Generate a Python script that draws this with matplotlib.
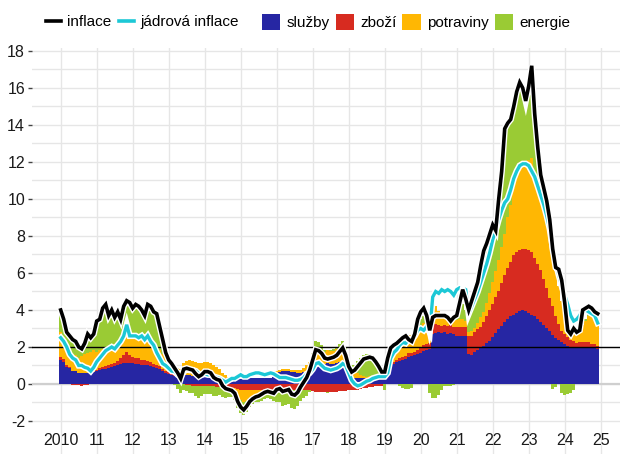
import numpy as np
import matplotlib
matplotlib.use("Agg")
import matplotlib.pyplot as plt
import matplotlib.patheffects as pe
from matplotlib.lines import Line2D
from matplotlib.patches import Patch

plt.rcParams['font.family'] = ['Liberation Sans', 'DejaVu Sans']
plt.rcParams['axes.unicode_minus'] = False

start_year = 2010
year_labels = ['2010', '11', '12', '13', '14', '15', '16', '17', '18', '19',
               '20', '21', '22', '23', '24', '25']

inflace = [
    4.0, 3.5, 2.8, 2.6, 2.4, 2.3, 2.0, 1.9, 2.2, 2.7, 2.5, 2.7,
    3.4, 3.5, 4.1, 4.3, 3.7, 4.0, 3.6, 3.9, 3.5, 4.2, 4.5, 4.4,
    4.1, 4.3, 4.2, 4.0, 3.7, 4.3, 4.2, 3.9, 3.8, 3.1, 2.4, 1.7,
    1.3, 1.1, 0.85, 0.6, 0.3, 0.8, 0.85, 0.8, 0.75, 0.55, 0.4, 0.5,
    0.67, 0.67, 0.6, 0.35, 0.25, 0.2, -0.1, -0.25, -0.3, -0.35, -0.5, -0.95,
    -1.25, -1.4, -1.2, -0.95, -0.8, -0.7, -0.65, -0.55, -0.45, -0.4, -0.45, -0.5,
    -0.3, -0.25, -0.4, -0.35, -0.3, -0.55, -0.6, -0.45, -0.15, 0.1, 0.35, 0.75,
    1.3, 1.85, 1.8, 1.65, 1.4, 1.35, 1.4, 1.45, 1.55, 1.75, 1.95, 1.55,
    0.95, 0.65, 0.75, 0.95, 1.15, 1.35, 1.4, 1.45, 1.4, 1.2, 0.95, 0.65,
    0.65, 1.4, 1.95, 2.1, 2.2, 2.35, 2.5, 2.6, 2.4, 2.3, 2.7, 3.5,
    3.9, 4.1, 3.7, 2.9, 3.6, 3.7, 3.7, 3.7, 3.7, 3.6, 3.4, 3.6,
    3.7, 4.4, 5.1, 4.6, 4.0, 4.5, 5.0, 5.5, 6.4, 7.2, 7.6, 8.1,
    8.6, 8.3, 10.0, 11.5, 13.8, 14.1, 14.3, 15.0, 15.8, 16.3, 16.0, 15.3,
    16.1, 17.2, 14.6, 12.8, 11.3, 10.6, 9.9, 8.9, 7.3, 6.3, 6.2, 5.6,
    4.4, 2.9, 2.7, 3.0, 2.8, 2.9, 4.0, 4.1, 4.2, 4.1, 3.9, 3.8,
]

jadrova = [
    2.5, 2.3, 2.0, 1.6, 1.4, 1.3, 1.0, 1.0, 0.9, 0.85, 0.7, 0.9,
    1.2, 1.4, 1.6, 1.8, 1.9, 2.0, 1.9, 2.1, 2.3, 2.6, 3.2, 2.6,
    2.6, 2.6, 2.5, 2.6, 2.4, 2.6, 2.3, 2.1, 1.7, 1.4, 1.1, 1.0,
    0.85, 0.7, 0.67, 0.5, 0.4, 0.67, 0.8, 0.75, 0.75, 0.7, 0.55, 0.5,
    0.55, 0.5, 0.5, 0.4, 0.35, 0.3, 0.2, 0.1, 0.2, 0.3, 0.3, 0.4,
    0.5, 0.4, 0.4, 0.5, 0.55, 0.6, 0.6, 0.55, 0.5, 0.55, 0.6, 0.55,
    0.45, 0.35, 0.35, 0.35, 0.3, 0.25, 0.2, 0.2, 0.25, 0.35, 0.55, 0.6,
    0.8, 1.1, 1.15, 1.0, 0.85, 0.8, 0.75, 0.8, 0.85, 0.95, 1.1, 1.0,
    0.6, 0.2, 0.0, -0.1, -0.05, 0.05, 0.15, 0.2, 0.3, 0.35, 0.4, 0.4,
    0.4, 0.6, 1.4, 1.7, 1.85, 2.1, 2.25, 2.2, 2.4, 2.4, 2.6, 2.9,
    3.0, 2.9, 3.1, 2.8, 4.7, 5.0, 4.9, 5.1, 5.0, 5.1, 5.0, 4.8,
    5.1, 5.2, 5.2, 5.1, 3.8, 4.2, 4.6, 5.0, 5.5, 6.0, 6.5, 7.1,
    7.8, 8.3, 8.9, 9.4, 9.8, 10.0, 10.5, 11.1, 11.5, 11.8, 11.9, 11.9,
    11.8, 11.5, 11.2, 10.7, 10.2, 9.7, 9.1, 8.4, 7.4, 6.6, 5.9, 5.3,
    4.8, 4.3, 3.7, 3.4, 3.5, 3.7, 4.0, 4.0, 3.9, 3.8, 3.7, 3.3,
]

sluzby = [
    1.3, 1.2, 0.9, 0.85, 0.7, 0.7, 0.6, 0.6, 0.6, 0.6, 0.6, 0.65,
    0.7, 0.75, 0.8, 0.8, 0.85, 0.9, 0.95, 1.0, 1.1, 1.15, 1.15, 1.15,
    1.15, 1.1, 1.1, 1.05, 1.0, 1.0, 0.95, 0.9, 0.85, 0.8, 0.7, 0.6,
    0.55, 0.5, 0.45, 0.4, 0.35, 0.45, 0.5, 0.5, 0.45, 0.45, 0.4, 0.4,
    0.4, 0.45, 0.45, 0.4, 0.4, 0.35, 0.35, 0.35, 0.35, 0.35, 0.35, 0.35,
    0.3, 0.3, 0.3, 0.3, 0.3, 0.3, 0.3, 0.35, 0.35, 0.35, 0.35, 0.4,
    0.6, 0.65, 0.7, 0.7, 0.7, 0.65, 0.65, 0.6, 0.6, 0.65, 0.7, 0.75,
    0.9, 1.0, 1.1, 1.1, 1.1, 1.15, 1.1, 1.1, 1.15, 1.2, 1.2, 1.1,
    0.5, 0.35, 0.3, 0.3, 0.3, 0.3, 0.3, 0.35, 0.35, 0.35, 0.4, 0.4,
    0.6, 0.8, 1.0, 1.1, 1.2, 1.25, 1.3, 1.35, 1.45, 1.5, 1.55, 1.6,
    1.7, 1.8, 1.85, 1.9, 2.7, 2.75, 2.8, 2.75, 2.8, 2.7, 2.75, 2.7,
    2.6, 2.6, 2.6, 2.6, 1.6, 1.55, 1.75, 1.85, 1.95, 2.05, 2.2, 2.35,
    2.55, 2.75, 2.95, 3.15, 3.35, 3.5, 3.65, 3.75, 3.85, 3.95, 4.0, 3.95,
    3.85, 3.75, 3.65, 3.5, 3.35, 3.2, 3.0, 2.85, 2.65, 2.5, 2.4, 2.25,
    2.15, 2.05, 2.0, 2.0, 2.0, 2.0, 2.0, 2.0, 2.0, 1.95, 1.95, 1.9,
]

zbozi = [
    0.18, 0.15, 0.1, 0.05, -0.05, -0.05, -0.05, -0.1, -0.05, -0.05, 0.0, 0.0,
    0.05, 0.1, 0.1, 0.15, 0.15, 0.2, 0.2, 0.25, 0.3, 0.4, 0.6, 0.4,
    0.3, 0.3, 0.3, 0.25, 0.3, 0.25, 0.25, 0.2, 0.2, 0.15, 0.1, 0.1,
    0.1, 0.05, 0.05, 0.05, 0.0, 0.0, -0.05, -0.05, -0.1, -0.1, -0.1, -0.1,
    -0.1, -0.1, -0.1, -0.1, -0.15, -0.15, -0.15, -0.15, -0.2, -0.2, -0.2, -0.25,
    -0.3, -0.3, -0.3, -0.3, -0.3, -0.3, -0.3, -0.3, -0.3, -0.3, -0.3, -0.3,
    -0.35, -0.35, -0.35, -0.35, -0.35, -0.35, -0.35, -0.35, -0.35, -0.35, -0.35, -0.35,
    -0.4, -0.45, -0.45, -0.45, -0.45, -0.45, -0.45, -0.45, -0.45, -0.4, -0.4, -0.4,
    -0.35, -0.35, -0.3, -0.3, -0.25, -0.2, -0.2, -0.15, -0.15, -0.1, -0.1, -0.1,
    0.05, 0.05, 0.1, 0.1, 0.1, 0.15, 0.15, 0.15, 0.2, 0.2, 0.2, 0.25,
    0.3, 0.3, 0.3, 0.3, 0.45, 0.5, 0.4, 0.4, 0.4, 0.45, 0.45, 0.4,
    0.5, 0.5, 0.5, 0.5, 1.0, 1.05, 1.05, 1.1, 1.15, 1.3, 1.5, 1.65,
    1.8, 1.95, 2.1, 2.3, 2.55, 2.75, 2.95, 3.2, 3.3, 3.3, 3.3, 3.35,
    3.4, 3.4, 3.15, 3.0, 2.8, 2.5, 2.2, 1.8, 1.55, 1.15, 0.85, 0.6,
    0.55, 0.5, 0.4, 0.3, 0.2, 0.25, 0.25, 0.25, 0.25, 0.2, 0.2, 0.15,
]

potraviny = [
    1.35, 1.2, 1.1, 1.0, 0.9, 0.85, 0.8, 0.9, 1.0, 1.1, 1.15, 1.2,
    1.0, 1.0, 1.0, 1.0, 0.95, 0.95, 0.9, 0.9, 0.85, 0.85, 0.8, 0.9,
    1.0, 1.05, 1.1, 1.15, 1.1, 1.2, 1.2, 1.1, 1.0, 0.9, 0.8, 0.7,
    0.45, 0.45, 0.4, 0.4, 0.45, 0.7, 0.75, 0.8, 0.8, 0.75, 0.75, 0.75,
    0.8, 0.75, 0.7, 0.6, 0.5, 0.45, 0.25, 0.15, 0.05, 0.0, -0.1, -0.35,
    -0.55, -0.65, -0.6, -0.45, -0.35, -0.3, -0.25, -0.2, -0.15, -0.1, -0.1, -0.1,
    0.1, 0.1, 0.1, 0.1, 0.1, 0.1, 0.1, 0.15, 0.15, 0.2, 0.3, 0.45,
    0.5, 0.6, 0.6, 0.6, 0.65, 0.7, 0.7, 0.7, 0.75, 0.8, 0.8, 0.6,
    0.6, 0.45, 0.35, 0.3, 0.2, 0.15, 0.1, 0.1, 0.1, 0.1, 0.1, 0.15,
    0.3, 0.5, 0.65, 0.75, 0.85, 0.9, 1.0, 1.05, 1.0, 0.95, 1.0, 1.1,
    1.1, 1.2, 1.2, 1.15, 1.0, 0.95, 0.75, 0.6, 0.5, 0.45, 0.4, 0.45,
    0.35, 0.4, 0.4, 0.3, 0.2, 0.25, 0.2, 0.35, 0.5, 0.55, 0.7, 0.9,
    1.15, 1.4, 1.65, 1.95, 2.2, 2.75, 3.1, 3.65, 4.15, 4.45, 4.6, 4.6,
    4.85, 5.05, 4.6, 4.2, 4.05, 3.8, 3.4, 3.15, 2.7, 2.45, 2.05, 1.65,
    1.1, 0.55, 0.4, 0.4, 0.5, 0.5, 0.95, 1.15, 1.45, 1.55, 1.45, 1.45,
]

energie = [
    1.17, 0.95, 0.7, 0.7, 0.8, 0.75, 0.6, 0.4, 0.6, 1.0, 0.75, 0.85,
    1.65, 1.65, 2.2, 2.35, 1.75, 1.95, 1.55, 1.75, 1.25, 1.8, 1.95, 1.95,
    1.65, 1.85, 1.7, 1.55, 1.3, 1.85, 1.8, 1.7, 1.75, 1.25, 0.8, 0.3,
    0.2, 0.1, -0.05, -0.25, -0.5, -0.35, -0.35, -0.45, -0.4, -0.55, -0.65, -0.55,
    -0.45, -0.45, -0.45, -0.55, -0.5, -0.45, -0.55, -0.6, -0.5, -0.5, -0.55, -0.7,
    -0.7, -0.75, -0.6, -0.5, -0.45, -0.4, -0.4, -0.4, -0.35, -0.35, -0.4, -0.5,
    -0.65, -0.65, -0.85, -0.8, -0.75, -0.95, -1.0, -0.85, -0.55, -0.4, -0.3, -0.1,
    0.3, 0.7, 0.55, 0.4, 0.1, -0.05, 0.05, 0.1, 0.1, 0.15, 0.35, 0.25,
    0.2, 0.2, 0.4, 0.65, 0.9, 1.1, 1.2, 1.15, 1.1, 0.85, 0.55, 0.2,
    -0.3, 0.05, 0.2, 0.15, 0.05, -0.1, -0.2, -0.25, -0.25, -0.2, 0.1, 0.55,
    0.4, 0.4, 0.0, -0.5, -0.75, -0.75, -0.6, -0.3, -0.1, -0.1, -0.1, -0.05,
    0.1, 0.5, 0.8, 0.6, 1.2, 1.65, 2.0, 2.2, 2.8, 3.3, 3.2, 3.2,
    3.1, 2.2, 3.3, 3.9, 4.8, 5.1, 4.6, 4.4, 4.5, 4.6, 4.1, 3.4,
    4.0, 5.0, 3.2, 2.1, 1.1, 0.9, 0.5, 0.2, -0.25, -0.15, 0.0, -0.5,
    -0.6, -0.55, -0.5, -0.35, 0.0, 0.0, 0.0, 0.1, 0.2, 0.2, 0.2, 0.25,
]

components = [
    ('služby', sluzby, '#2626A3'),
    ('zboží', zbozi, '#D72B20'),
    ('potraviny', potraviny, '#FFB703'),
    ('energie', energie, '#9ACB34'),
]

FS = 11
W, H = 620, 454
fig = plt.figure(figsize=(W / 100, H / 100), dpi=100)
ax = fig.add_axes([32 / W, 0, 1 - 32 / W, (H - 48) / H])

n = len(inflace)
x = start_year + np.arange(n) / 12.0

pos_base = np.zeros(n)
neg_base = np.zeros(n)
for name, vals, col in components:
    v = np.asarray(vals, dtype=float)
    p = np.clip(v, 0, None)
    q = np.clip(v, None, 0)
    ax.bar(x, p, bottom=pos_base, width=1.02 / 12, color=col, linewidth=0, zorder=2)
    ax.bar(x, q, bottom=neg_base, width=1.02 / 12, color=col, linewidth=0, zorder=2)
    pos_base += p
    neg_base += q

ax.axhline(0, color='#CFCFCF', lw=1.6, zorder=1)
ax.axhline(2, color='black', lw=1.0, zorder=3)

stroke = [pe.Stroke(linewidth=4.6, foreground='white'), pe.Normal()]
ax.plot(x, jadrova, color='#1CC8D6', lw=2.4, zorder=4, path_effects=stroke,
        solid_joinstyle='miter')
ax.plot(x, inflace, color='black', lw=2.6, zorder=5, path_effects=stroke,
        solid_joinstyle='miter')

years = np.arange(start_year, start_year + len(year_labels))
ax.set_xlim(start_year - 0.797, start_year + 15.536)
ax.set_ylim(-3.784, 18.16)
ax.set_xticks(years)
ax.tick_params(axis='x', length=0, labelbottom=False)
ax.set_yticks(np.arange(-2, 19, 2))
ax.set_yticks(np.arange(-1, 18, 2), minor=True)
ax.tick_params(axis='y', which='major', length=3, width=1, color='#444444',
               pad=2, labelsize=FS + 0.5, labelcolor='#1A1A1A')
ax.tick_params(axis='y', which='minor', length=0)
ax.grid(axis='y', which='both', color='#E6E6E6', lw=1)
ax.grid(axis='x', which='major', color='#E6E6E6', lw=1)
ax.set_axisbelow(True)
for s in ax.spines.values():
    s.set_visible(False)

for yr, lab in zip(years, year_labels):
    ax.text(yr, 0.034, lab, transform=ax.get_xaxis_transform(), ha='center',
            va='center', fontsize=FS + 0.5, color='#1A1A1A')

line_handles = [Line2D([], [], color='black', lw=2.6),
                Line2D([], [], color='#1CC8D6', lw=2.6)]
fig.legend(line_handles, ['inflace', 'jádrová inflace'], loc='center left',
           bbox_to_anchor=(46 / W, 1 - 22 / H), ncol=2, frameon=False,
           borderpad=0, borderaxespad=0, handlelength=0.95, handletextpad=0.4,
           columnspacing=0.55, fontsize=FS)
patch_handles = [Patch(facecolor=c, edgecolor='none') for _, _, c in components]
fig.legend(patch_handles, [nm for nm, _, _ in components], loc='center left',
           bbox_to_anchor=(262 / W, 1 - 22 / H), ncol=4, frameon=False,
           borderpad=0, borderaxespad=0, handlelength=1.2, handleheight=1.2,
           handletextpad=0.4, columnspacing=0.4, fontsize=FS)

fig.savefig('out.png', dpi=100)
